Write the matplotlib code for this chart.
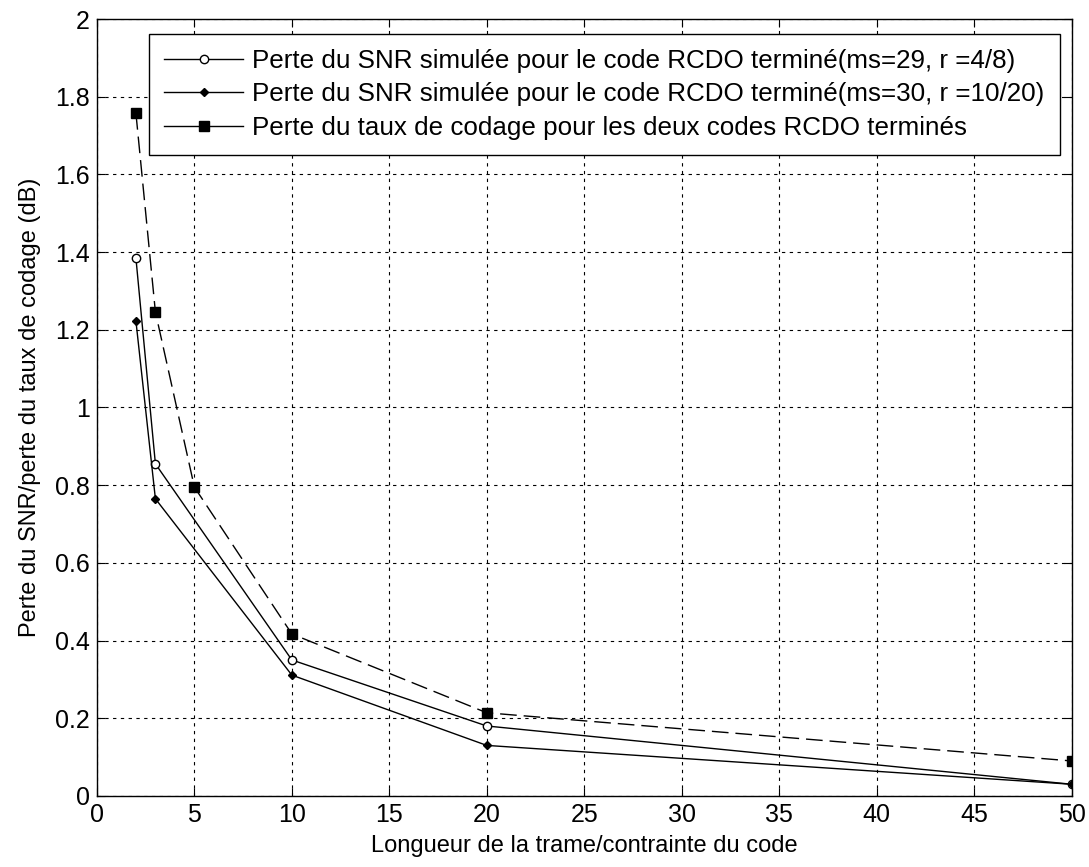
import matplotlib.pyplot as plt
from matplotlib.lines import Line2D

plt.rcParams['font.family'] = ['Liberation Sans', 'DejaVu Sans']

# data
x_snr = [2, 3, 10, 20, 50]
snr_29 = [1.385, 0.855, 0.35, 0.18, 0.03]
snr_30 = [1.223, 0.765, 0.311, 0.13, 0.03]
x_taux = [2, 3, 5, 10, 20, 50]
taux = [1.758, 1.246, 0.795, 0.417, 0.214, 0.09]

labels = ['Perte du SNR simulée pour le code RCDO terminé(ms=29, r =4/8)',
          'Perte du SNR simulée pour le code RCDO terminé(ms=30, r =10/20)',
          'Perte du taux de codage pour les deux codes RCDO terminés']

fig = plt.figure(figsize=(10.89, 8.67), dpi=100)
ax = fig.add_axes([0.089, 0.082, 0.895, 0.896])

ax.plot(x_snr, snr_29, 'k-', lw=1, marker='o', ms=6, mfc='white', mec='black')
ax.plot(x_snr, snr_30, 'k-', lw=1, marker='D', ms=4, mfc='black')
ax.plot(x_taux, taux, 'k-', lw=1, dashes=(12, 5), marker='s', ms=7.5, mfc='black')

ax.set_xlim(0, 50)
ax.set_ylim(0, 2)
ax.set_xticks(range(0, 51, 5))
ax.set_yticks([0, 0.2, 0.4, 0.6, 0.8, 1, 1.2, 1.4, 1.6, 1.8, 2])
ax.set_yticklabels(['0', '0.2', '0.4', '0.6', '0.8', '1', '1.2', '1.4', '1.6', '1.8', '2'])
ax.tick_params(direction='in', top=True, right=True, labelsize=18, length=6, pad=5)
ax.grid(True, color='black', linestyle=(0, (3, 4)), lw=0.8)
for s in ax.spines.values():
    s.set_linewidth(1)

ax.set_xlabel('Longueur de la trame/contrainte du code', fontsize=17, labelpad=6)
ax.set_ylabel('Perte du SNR/perte du taux de codage (dB)', fontsize=17, labelpad=10)

handles = [Line2D([], [], color='k', lw=1, marker='o', ms=6, mfc='white'),
           Line2D([], [], color='k', lw=1, marker='D', ms=4, mfc='black'),
           Line2D([], [], color='k', lw=1, marker='s', ms=7.5, mfc='black')]
leg = ax.legend(handles, labels, loc='upper right', bbox_to_anchor=(0.9877, 0.9807),
                borderaxespad=0, fontsize=18.7, fancybox=False,
                edgecolor='black', framealpha=1, handlelength=3.05, handletextpad=0.35,
                borderpad=0.58, labelspacing=0.36)
leg.get_frame().set_linewidth(1)

plt.savefig('out.png', dpi=100)
